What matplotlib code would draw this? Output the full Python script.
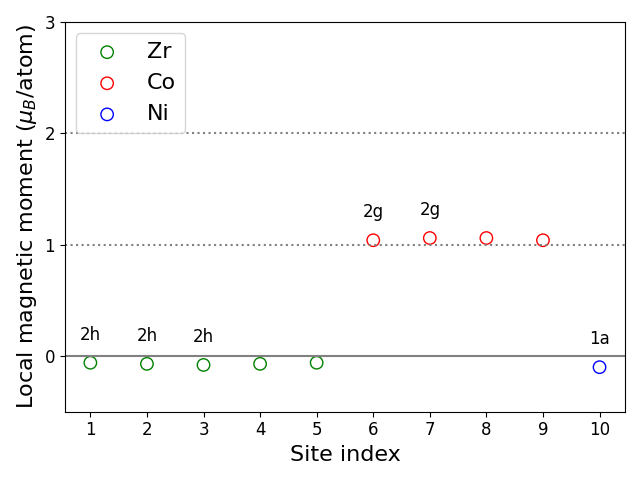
import matplotlib.pyplot as plt
import numpy as np

# サイトごとの局所磁気モーメント
zr_sites = [1, 2, 3, 4, 5]
zr_moments = [-0.06, -0.07, -0.08, -0.07, -0.06]
co_sites = [6, 7, 8, 9]
co_moments = [1.04, 1.06, 1.06, 1.04]
ni_sites = [10]
ni_moments = [-0.10]

# Wyckoff ラベル
label_sites = [1, 2, 3, 6, 7, 10]
label_texts = ["2h", "2h", "2h", "2g", "2g", "1a"]

all_sites = np.array(zr_sites + co_sites + ni_sites)
all_moments = np.array(zr_moments + co_moments + ni_moments)

fig, ax = plt.subplots(figsize=(6.4, 4.8), dpi=100)

ax.scatter(zr_sites, zr_moments, s=80, facecolors="none", edgecolors="green", label="Zr")
ax.scatter(co_sites, co_moments, s=80, facecolors="none", edgecolors="red", label="Co")
ax.scatter(ni_sites, ni_moments, s=80, facecolors="none", edgecolors="blue", label="Ni")

for site, text in zip(label_sites, label_texts):
    moment = all_moments[all_sites == site][0]
    ax.text(site, moment + 0.25, text, ha="center", va="center", fontsize=12)

ax.axhline(0, color="gray", linestyle="-", linewidth=1.5)
ax.axhline(1, color="gray", linestyle=":", linewidth=1.5)
ax.axhline(2, color="gray", linestyle=":", linewidth=1.5)

ax.set_ylim(-0.5, 3)
ax.set_xticks(all_sites)
ax.set_yticks([0, 1, 2, 3])
ax.tick_params(labelsize=12)
ax.set_xlabel("Site index", fontsize=16)
ax.set_ylabel(r"Local magnetic moment ($\mu_B$/atom)", fontsize=16)
ax.legend(loc="upper left", fontsize=16)

plt.tight_layout()
plt.savefig("out.png")
